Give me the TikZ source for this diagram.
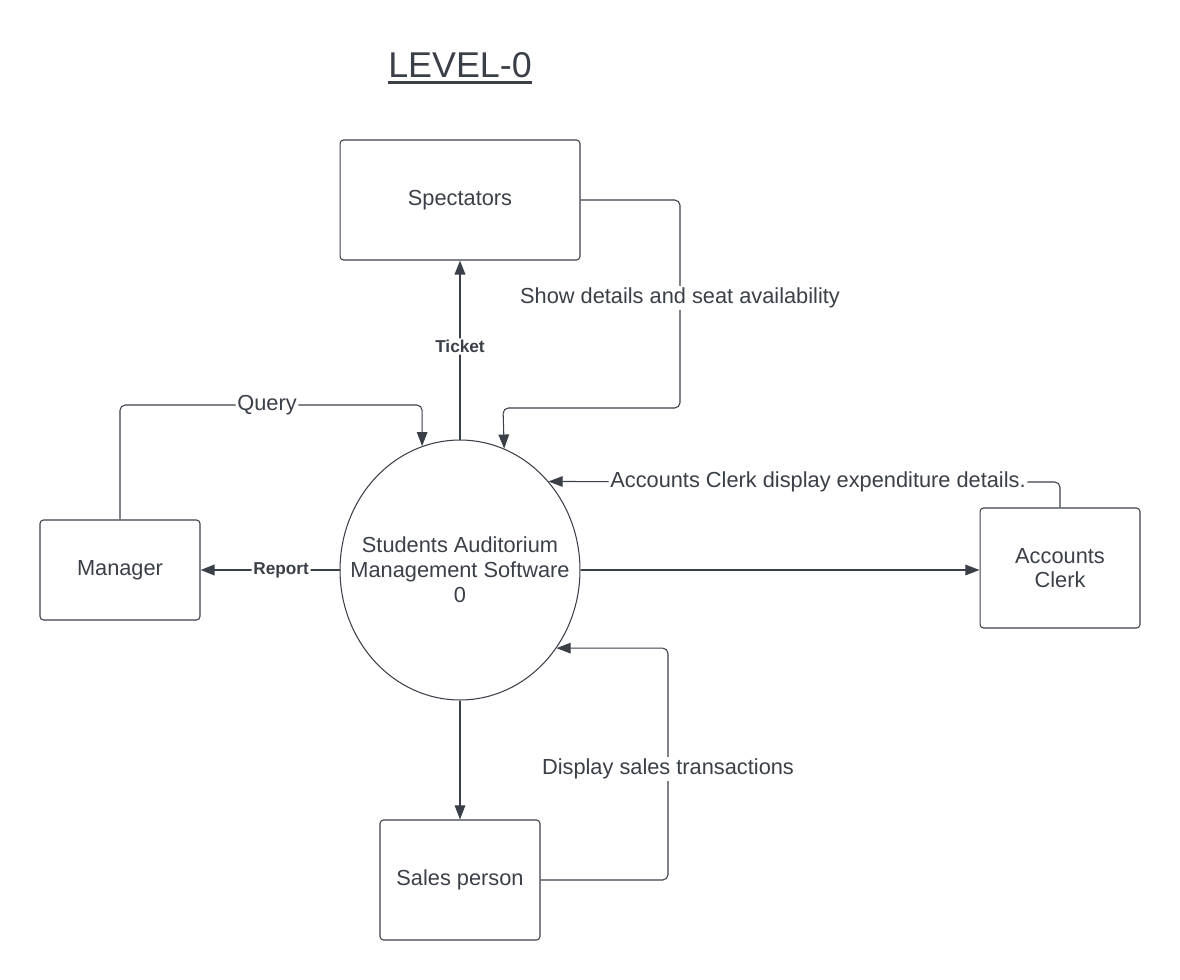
\documentclass[tikz,border=0pt]{standalone}
\usepackage{fontspec}
\setmainfont{Liberation Sans}
\usetikzlibrary{arrows.meta,shapes.geometric}
\definecolor{ink}{RGB}{58,63,72}

\begin{document}
\begin{tikzpicture}[x=0.02cm,y=-0.02cm,>={Triangle[length=8pt,width=6pt]},line width=0.6pt,
    box/.style={draw=ink,rounded corners=2pt,minimum width=3.2cm,minimum height=2.4cm,text=ink,align=center,font=\fontsize{12.4}{15}\selectfont},
    flow/.style={->,draw=ink,rounded corners=3pt},
    lbl/.style={fill=white,inner sep=1pt,text=ink,font=\fontsize{12.4}{15}\selectfont},
    lblb/.style={fill=white,inner sep=1pt,text=ink,font=\bfseries\fontsize{9.8}{12}\selectfont}]
            \useasboundingbox (0,0) rectangle (1180,980);
            \node[inner sep=0,text=ink,font=\fontsize{20.4}{24}\selectfont](ttl)at(460, 65){LEVEL-0};
            \draw[ink,line width=1.6pt]([yshift=-3pt]ttl.base west) -- ([yshift=-3pt]ttl.base east);
            \node[box,minimum width=4.8cm](spec)at(460, 200){Spectators};
            \node[ellipse,draw=ink,minimum width=4.8cm,minimum height=5.2cm,inner sep=0](sys)at(460, 570){};
            \node[text=ink,align=center,font=\fontsize{12.4}{14.3}\selectfont](sysname)at(sys){Students Auditorium\\Management Software\\0};
            \node[box,minimum height=2cm](man)at(120, 570){Manager};
            \node[box](acc)at(1060, 568){Accounts\\[-1pt]Clerk};
            \node[box](sal)at(460, 880){Sales person};
            \draw[flow,line width=1.1pt](sys.north) -- node[lblb,pos=0.52]{Ticket} (spec.south);
            \draw[flow,line width=1.1pt](sys.west) -- node[lblb,pos=0.42]{Report} (man.east);
            \draw[flow](sys.east) -- (acc.west |- sys.east);
            \draw[flow](sys.south) -- (sal.north);
            \draw[flow](spec.east) -| (680,298) node[lbl]{Show details and seat availability} |- (503,408) -- (sys.70.5);
            \draw[flow](man.north) |- (267,405) node[lbl]{Query} -| (sys.107.1);
            \draw[flow](acc.north) |- (818,482) node[lbl]{Accounts Clerk display expenditure details.} -- (sys.45);
            \draw[flow](sal.east) -| (668,769) node[lbl]{Display sales transactions} |- (sys.-39.1);
        \end{tikzpicture}
\end{document}
